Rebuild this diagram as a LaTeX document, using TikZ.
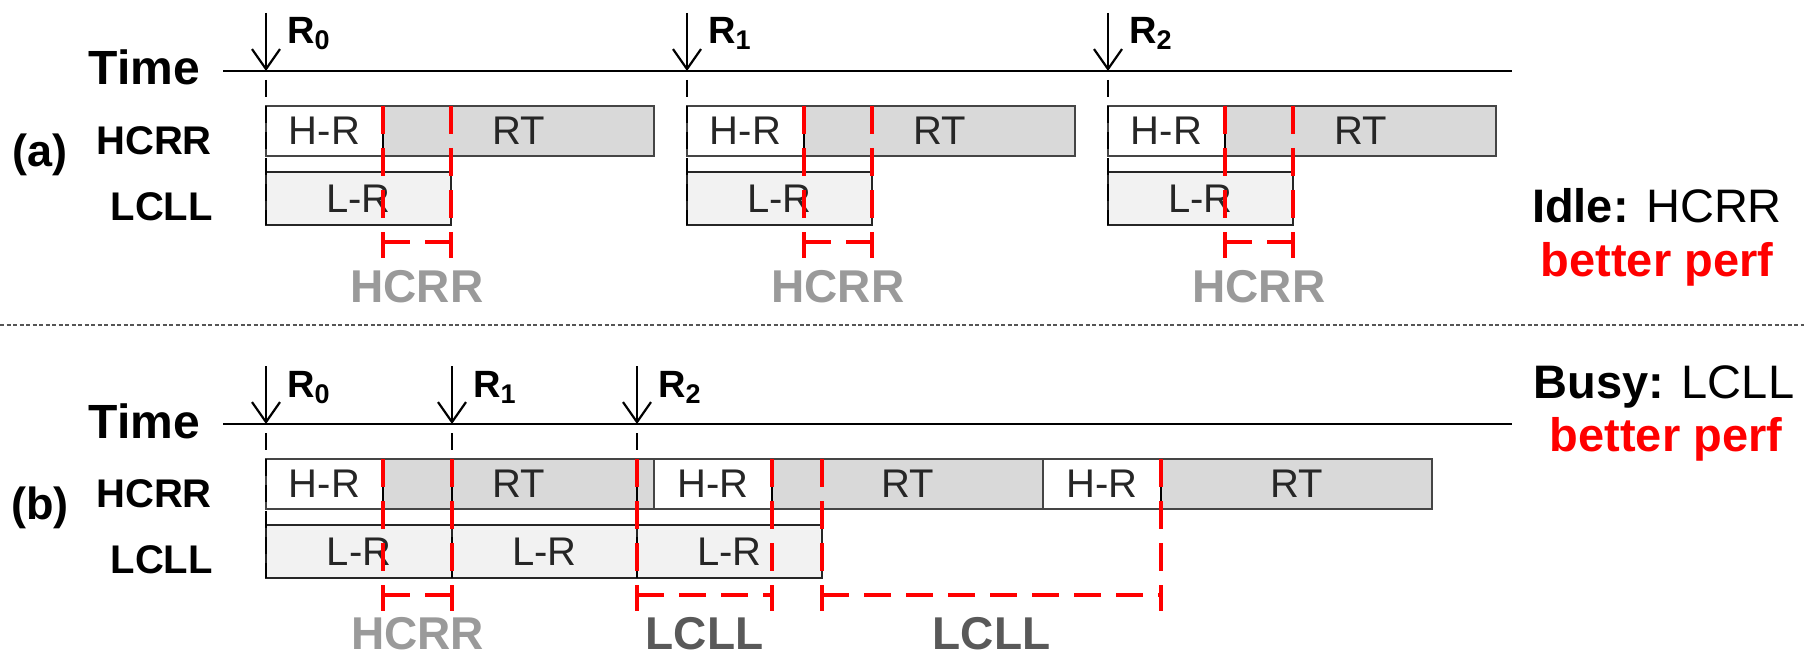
\documentclass[tikz,border=0pt]{standalone}
\usepackage{fontspec}
\setmainfont{Liberation Sans}
\usetikzlibrary{arrows.meta}

\definecolor{rtfill}{HTML}{D9D9D9}
\definecolor{lrfill}{HTML}{F2F2F2}
\definecolor{boxgray}{HTML}{454545}
\definecolor{lightlab}{HTML}{9A9A9A}
\definecolor{darklab}{HTML}{595959}
\definecolor{sepgray}{HTML}{555555}

% request label R with a subscript index
\newcommand{\reqlabel}[1]{R\raisebox{-6pt}{\fontsize{27}{27}\selectfont\bfseries #1}}

\begin{document}
\begin{tikzpicture}[x=1pt, y=-1pt,
  part/.style={inner sep=0pt, outer sep=0pt, anchor=north west,
    minimum height=50pt, font=\fontsize{40}{40}\selectfont, text=black!85},
  hrpart/.style={part, fill=white},
  rtpart/.style={part, fill=rtfill},
  lrpart/.style={part, fill=lrfill, minimum height=53pt},
  boxline/.style={draw=boxgray, line width=2.2pt},
  lrline/.style={draw=black!85, line width=2pt},
  divider/.style={draw=black, line width=1.4pt},
  reqarrow/.style={line width=2.2pt, -{Straight Barb[length=20pt,width=28pt]}},
  reqline/.style={line width=2pt, dash pattern=on 17pt off 9pt},
  gapline/.style={draw=red, line width=4.5pt, dash pattern=on 28pt off 14pt},
  bracket/.style={draw=red, line width=4.5pt, dash pattern=on 27pt off 15pt},
  timeaxis/.style={line width=2.4pt},
  sepline/.style={draw=sepgray, line width=1.8pt, dash pattern=on 4pt off 2.5pt},
  timelab/.style={font=\fontsize{48}{48}\selectfont\bfseries, inner sep=0pt, anchor=base east},
  rowlab/.style={font=\fontsize{40}{40}\selectfont\bfseries, inner sep=0pt, anchor=base east},
  panlab/.style={font=\fontsize{45}{45}\selectfont\bfseries, inner sep=0pt},
  reqlab/.style={font=\fontsize{38}{38}\selectfont\bfseries, inner sep=0pt, anchor=base west},
  gaplab/.style={font=\fontsize{46}{46}\selectfont\bfseries, inner sep=0pt, anchor=base},
  note/.style={font=\fontsize{47}{47}\selectfont, inner sep=0pt, anchor=base},
  perf/.style={note, font=\fontsize{47}{47}\selectfont\bfseries, text=red}
]
\useasboundingbox (0,0) rectangle (1804,658);

% ---------------- (a) idle ----------------
\node[timelab] (atime) at (200,85) {Time};
\coordinate (aaxL) at (223,71);
\coordinate (aaxR) at (1512,71);
\draw[timeaxis] (aaxL) -- (aaxR);
\node[panlab] (alab) at (40,155) {(a)};
\node[rowlab] (ahcrr) at (212,154) {HCRR};
\node[rowlab] (alcll) at (213,220) {LCLL};

\foreach \i/\s in {0/266,1/687,2/1108}{
  \node[hrpart, minimum width=117pt] (ahr\i) at (\s,106) {H-R};
  \node[rtpart, minimum width=271pt] (art\i) at (\s+117,106) {RT};
  \node[lrpart, minimum width=185pt] (alr\i) at (\s,172) {L-R};
  \draw[boxline] (ahr\i.north west) rectangle (art\i.south east);
  \draw[divider] (ahr\i.north east) -- (ahr\i.south east);
  \draw[lrline] (alr\i.north west) rectangle (alr\i.south east);
  \coordinate (aq\i) at (\s,13);
  \coordinate (ax\i) at (\s,71);
  \draw[reqarrow] (aq\i) -- (ax\i);
  \node[reqlab] (arl\i) at (\s+21,44) {\reqlabel{\i}};
  \coordinate (ad\i) at (\s,80);
  \draw[reqline] (ad\i) -- (alr\i.south west);
  \draw[gapline] (ahr\i.north east) -- ++(0,152);
  \draw[gapline] (alr\i.north east |- ahr\i.north) -- ++(0,152);
  \coordinate (abl\i) at (\s+117,242);
  \coordinate (abr\i) at (\s+185,242);
  \draw[bracket] (abl\i) -- (abr\i);
  \node[gaplab, text=lightlab] (agl\i) at (\s+151,302) {HCRR};
}

\node[note] (idle) at (1657,222) {\textbf{Idle:} HCRR};
\node[perf] (aperf) at (1657,276) {better perf};

% separator
\coordinate (sepL) at (0,325);
\coordinate (sepR) at (1804,325);
\draw[sepline] (sepL) -- (sepR);

% ---------------- (b) busy ----------------
\node[timelab] (btime) at (200,438) {Time};
\coordinate (baxL) at (223,424);
\coordinate (baxR) at (1512,424);
\draw[timeaxis] (baxL) -- (baxR);
\node[panlab] (blab) at (40,508) {(b)};
\node[rowlab] (bhcrr) at (212,507) {HCRR};
\node[rowlab] (blcll) at (213,573) {LCLL};

\node[hrpart, minimum width=117pt] (bhr0) at (266,459) {H-R};
\node[rtpart, minimum width=271pt] (brt0) at (383,459) {RT};
\node[hrpart, minimum width=118pt] (bhr1) at (654,459) {H-R};
\node[rtpart, minimum width=271pt] (brt1) at (772,459) {RT};
\node[hrpart, minimum width=118pt] (bhr2) at (1043,459) {H-R};
\node[rtpart, minimum width=271pt] (brt2) at (1161,459) {RT};
\node[lrpart, minimum width=186pt] (blr0) at (266,525) {L-R};
\node[lrpart, minimum width=185pt] (blr1) at (452,525) {L-R};
\node[lrpart, minimum width=185pt] (blr2) at (637,525) {L-R};

\foreach \i in {0,1,2}{
  \draw[boxline] (bhr\i.north west) rectangle (brt\i.south east);
  \draw[divider] (bhr\i.north east) -- (bhr\i.south east);
  \draw[lrline] (blr\i.north west) rectangle (blr\i.south east);
}

\foreach \i/\s in {0/266,1/452,2/637}{
  \coordinate (bq\i) at (\s,366);
  \coordinate (bx\i) at (\s,424);
  \draw[reqarrow] (bq\i) -- (bx\i);
  \node[reqlab] (brl\i) at (\s+21,397) {\reqlabel{\i}};
  \coordinate (bd\i) at (\s,433);
  \coordinate (be\i) at (\s,578);
  \draw[reqline] (bd\i) -- (be\i);
}

% decision points
\draw[gapline] (bhr0.north east) -- ++(0,152);
\draw[gapline] (blr1.north west |- bhr0.north) -- ++(0,152);
\draw[gapline] (blr2.north west |- bhr0.north) -- ++(0,152);
\draw[gapline] (bhr1.north east) -- ++(0,152);
\draw[gapline] (blr2.north east |- bhr0.north) -- ++(0,152);
\draw[gapline] (bhr2.north east) -- ++(0,152);

\coordinate (bb0l) at (383,595);  \coordinate (bb0r) at (452,595);
\coordinate (bb1l) at (637,595);  \coordinate (bb1r) at (772,595);
\coordinate (bb2l) at (822,595);  \coordinate (bb2r) at (1161,595);
\draw[bracket] (bb0l) -- (bb0r);
\draw[bracket] (bb1l) -- (bb1r);
\draw[bracket] (bb2l) -- (bb2r);

\node[gaplab, text=lightlab] (bgl0) at (417.5,649) {HCRR};
\node[gaplab, text=darklab] (bgl1) at (704.5,649) {LCLL};
\node[gaplab, text=darklab] (bgl2) at (991.5,649) {LCLL};

\node[note] (busy) at (1664,398) {\textbf{Busy:} LCLL};
\node[perf] (bperf) at (1666,451) {better perf};
\end{tikzpicture}
\end{document}
